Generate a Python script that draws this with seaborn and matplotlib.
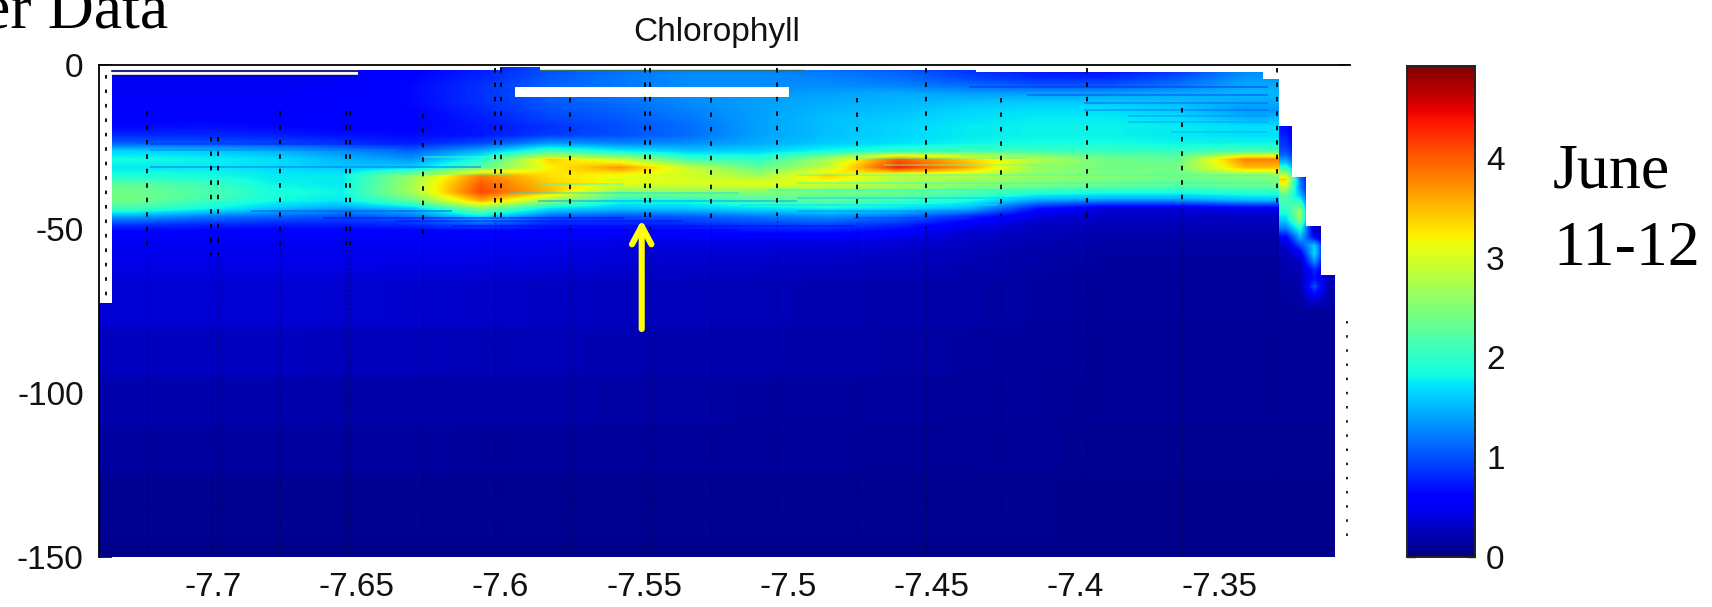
import numpy as np
import pandas as pd
import matplotlib
matplotlib.use("Agg")
import matplotlib.pyplot as plt
import matplotlib.transforms as mtrans
from matplotlib.patches import Rectangle
import seaborn as sns

sns.set_style("white")
plt.rcParams["font.family"] = ["Liberation Sans", "DejaVu Sans"]

lon_left, lon_right = -7.7428, -7.3076
max_depth = 150
n_cols = 18
depth_step = 2.5

upper_rows = [
    [.50,.50,.50,.52,.60,.75,1.00,1.15,1.25,1.25,1.15,1.05,.85,.70,.65,.85,1.25,1.25],
    [.50,.50,.50,.52,.62,.80,1.05,1.20,1.30,1.30,1.25,1.15,.95,.80,.80,1.00,1.35,1.35],
    [.50,.50,.50,.52,.65,.85,1.10,1.20,1.30,1.30,1.30,1.25,1.15,1.05,1.05,1.20,1.45,1.45],
    [.52,.52,.52,.54,.65,.85,1.10,1.20,1.30,1.35,1.40,1.45,1.40,1.40,1.40,1.45,1.50,1.50],
    [.52,.52,.52,.54,.65,.85,1.05,1.15,1.30,1.40,1.45,1.50,1.55,1.60,1.60,1.55,1.45,1.45],
    [.55,.55,.55,.55,.62,.80,1.00,1.10,1.25,1.40,1.50,1.55,1.65,1.70,1.70,1.60,1.35,1.35],
    [.60,.62,.60,.58,.62,.75,.95,1.05,1.20,1.40,1.55,1.60,1.70,1.75,1.75,1.70,1.50,1.50],
    [.65,.68,.65,.60,.62,.72,.85,1.00,1.15,1.40,1.55,1.65,1.75,1.80,1.80,1.75,1.70,1.70],
    [.80,.80,.75,.68,.65,.72,.90,1.00,1.15,1.40,1.55,1.65,1.75,1.80,1.80,1.75,1.70,1.70],
    [1.05,1.00,.95,.85,.75,.95,1.35,1.25,1.30,1.45,1.60,1.70,1.80,1.85,1.85,1.80,1.80,1.80],
    [1.65,1.60,1.50,1.30,1.10,1.50,2.10,1.80,1.60,1.65,1.85,2.00,2.10,2.10,2.05,2.05,2.15,2.15],
    [1.85,1.80,1.70,1.50,1.35,1.90,3.40,2.90,2.10,2.00,2.70,4.00,3.40,2.80,2.40,2.30,3.80,3.80],
    [1.75,1.75,1.70,1.60,1.65,2.30,3.20,3.70,2.90,2.30,2.90,4.30,3.60,2.60,2.40,2.40,3.50,3.50],
    [1.90,1.85,1.75,1.75,2.60,3.80,3.30,3.10,3.00,2.70,3.40,2.80,2.80,2.60,2.50,2.40,2.50,2.50],
    [2.25,2.10,1.80,1.75,2.70,4.00,3.40,3.10,3.00,3.10,3.00,2.75,2.60,2.50,2.40,2.30,2.40,2.40],
    [2.40,2.20,1.90,1.80,2.70,4.10,3.50,2.50,2.60,2.50,2.40,2.40,2.20,2.00,1.90,1.90,2.00,2.00],
    [2.40,2.10,1.85,1.75,2.30,3.60,2.60,1.90,1.90,2.20,2.30,2.10,1.90,1.40,1.30,1.30,1.50,1.50],
    [2.10,1.85,1.60,1.40,1.60,2.50,1.70,1.55,1.60,1.70,1.80,1.70,1.50,.70,.40,.40,.50,.50],
    [1.40,1.20,1.10,1.00,1.15,1.70,1.10,1.00,1.05,1.20,1.30,1.15,.80,.40,.30,.30,.30,.30],
    [.85,.80,.75,.75,.80,1.00,.75,.75,.80,.90,.95,.80,.50,.30,.25,.25,.25,.25],
    [.55,.55,.55,.55,.55,.55,.55,.55,.60,.65,.65,.55,.35,.25,.20,.20,.20,.20],
    [.50,.50,.50,.50,.50,.50,.50,.45,.45,.45,.45,.40,.30,.22,.18,.18,.18,.18],
    [.48,.48,.48,.48,.48,.48,.45,.40,.38,.38,.36,.32,.26,.20,.16,.16,.16,.16],
    [.46,.46,.46,.46,.46,.44,.42,.38,.36,.34,.32,.28,.24,.18,.15,.15,.15,.15],
    [.44,.44,.44,.44,.44,.42,.40,.36,.32,.30,.28,.26,.22,.17,.14,.14,.14,.14],
    [.42,.42,.42,.42,.40,.38,.36,.32,.30,.28,.26,.24,.20,.16,.13,.13,.13,.13],
]
deep_70 = [.38,.38,.38,.36,.34,.32,.30,.28,.26,.24,.22,.20,.18,.15,.12,.12,.12,.12]
deep_85 = [.28,.28,.28,.26,.26,.24,.24,.22,.20,.20,.18,.17,.15,.13,.11,.11,.11,.11]
deep_100 = [.20,.20,.20,.19,.19,.18,.18,.17,.16,.15,.15,.14,.13,.12,.10,.10,.10,.10]
deep_120 = [.14,.14,.14,.14,.14,.13,.13,.13,.12,.12,.12,.11,.11,.10,.09,.09,.09,.09]
deep_135 = [.09,.09,.09,.09,.09,.09,.09,.09,.09,.08,.08,.08,.08,.08,.07,.07,.07,.07]
deep_148 = [.05,.05,.05,.05,.05,.05,.05,.05,.05,.05,.05,.05,.05,.05,.05,.05,.05,.05]
chl_rows = upper_rows + [deep_70]*6 + [deep_85]*6 + [deep_100]*6 + [deep_120]*6 + [deep_135]*8 + [deep_148]*2

# narrow cells on the shelf slope, 18.75 to 66.25 m
shelf_lons = [-7.3322, -7.3127]
shelf_top = 18.75
shelf_rows = [
    [.70,.30,.20,.15],[.80,.40,.20,.15],[.90,.50,.20,.15],[1.10,.60,.20,.15],
    [1.60,.80,.20,.15],[2.40,1.00,.20,.15],[3.40,1.20,.20,.15],[2.80,1.30,.20,.15],
    [2.20,1.60,.25,.15],[2.10,2.20,.30,.15],[1.90,2.70,.30,.15],[1.60,2.50,.30,.15],
    [1.20,1.90,.30,.15],[.60,1.50,.60,.15],[.30,1.00,1.60,.20],[.25,.50,1.70,.20],
    [.20,.30,1.30,.20],[.20,.25,.80,.25],[.18,.22,.70,.25],[.16,.20,1.00,.22],
    [.15,.18,.60,.20],[.15,.16,.30,.18],
]

# thin layers inside the band: depth, lon from, lon to, chlorophyll
streak_depths = [24.2,26.0,31.2,28.0,33.2,36.4,39.0,41.5,44.6,46.7,47.6,49.2,50.4,
                 6.6,9.0,11.6,13.8,15.5,17.5,20.5,
                 28.4,30.6,33.5,36.0,38.2,40.4,42.6,44.5,46.5]
streak_lon0 = [-7.725,-7.725,-7.725,-7.630,-7.640,-7.590,-7.600,-7.590,-7.690,-7.665,-7.640,-7.620,-7.710,
               -7.440,-7.420,-7.400,-7.400,-7.385,-7.385,-7.370,
               -7.480,-7.470,-7.500,-7.500,-7.510,-7.500,-7.520,-7.500,-7.480]
streak_lon1 = [-7.630,-7.640,-7.610,-7.560,-7.600,-7.560,-7.520,-7.500,-7.620,-7.560,-7.540,-7.480,-7.520,
               -7.336,-7.336,-7.336,-7.336,-7.336,-7.336,-7.336,
               -7.420,-7.410,-7.335,-7.335,-7.335,-7.340,-7.430,-7.440,-7.440]
streak_chl = [.75,1.20,1.05,2.30,2.20,2.00,1.70,1.30,.90,.60,.55,.60,.45,
              .75,.90,1.00,1.10,1.25,1.35,1.45,
              2.10,2.40,2.20,2.00,1.90,1.60,1.70,1.20,.90]

# the blank parts of the section: lon from, lon to, depth from, depth to
blank_boxes = [
    (-7.7428, -7.7383, 0, 72.7),
    (-7.7383, -7.6527, 0, 3.05),
    (-7.6527, -7.6033, 0, 1.6),
    (-7.6033, -7.5895, 0, .6),
    (-7.5895, -7.4377, 0, 1.5),
    (-7.4377, -7.3378, 0, 2.0),
    (-7.3378, -7.3322, 0, 4.3),
    (-7.3322, -7.3076, 0, 18.6),
    (-7.3277, -7.3076, 18.6, 34.0),
    (-7.3228, -7.3076, 34.0, 49.1),
    (-7.3176, -7.3076, 49.1, 64.0),
    (-7.3127, -7.3076, 64.0, 150),
    (-7.598, -7.5027, 6.7, 9.8),
]

# casts of the glider: longitude and depth where its dots start
cast_lons = [-7.726,-7.704,-7.7014,-7.680,-7.657,-7.6555,-7.630,-7.605,-7.603,-7.579,
             -7.553,-7.551,-7.530,-7.507,-7.479,-7.455,-7.429,-7.399,-7.366,-7.333]
cast_tops = [14,22,22,14,14,14,15,1,1,10,1,1,10,1,10,1,10,1,13,1]
cast_ends = [58,58,58,56,55,55,52,48,48,50,50,50,48,46,48,50,46,48,42,42]

x_ticks = [-7.7, -7.65, -7.6, -7.55, -7.5, -7.45, -7.4, -7.35]
x_ticklabels = ["-7.7", "-7.65", "-7.6", "-7.55", "-7.5", "-7.45", "-7.4", "-7.35"]
y_ticks = [0, -50, -100, -150]
cbar_ticks = [0, 1, 2, 3, 4]
chl_max = 4.92

W, H = 1712, 607
depth_labels = [depth_step*(i+.5) for i in range(len(chl_rows))]
chldf = pd.DataFrame(chl_rows, index=depth_labels)
lon_w = (lon_right-lon_left)/n_cols


def xcell(lon):
    return (np.asarray(lon)-lon_left)/lon_w


def ycell(depth):
    return np.asarray(depth)/depth_step


fig = plt.figure(figsize=(W/100, H/100), dpi=100)
ax = fig.add_axes([99/W, 1-557/H, 1251/W, 492/H])
cax = fig.add_axes([1407/W, 1-557/H, 68/W, 491/H])

sns.heatmap(chldf, ax=ax, cbar_ax=cax, cmap="jet", vmin=0, vmax=chl_max,
            xticklabels=False, yticklabels=False)
chl_norm = plt.Normalize(0, chl_max)
chl_cmap = plt.get_cmap("jet")

# smooth the cells the way the contoured section looks
ax.imshow(chldf.values, extent=(0, n_cols, len(chl_rows), 0), aspect="auto", cmap="jet",
          vmin=0, vmax=chl_max, interpolation="bilinear", zorder=1.5)
shelf_arr = np.array(shelf_rows)
for d, l0, l1, c in zip(streak_depths, streak_lon0, streak_lon1, streak_chl):
    ax.plot(xcell([l0, l1]), ycell([d, d]), color=chl_cmap(chl_norm(c)), lw=1.1, alpha=.55,
            solid_capstyle="butt", zorder=1.55)
ax.imshow(shelf_arr, aspect="auto", cmap="jet", vmin=0, vmax=chl_max, interpolation="bilinear",
          extent=(xcell(shelf_lons[0]), xcell(shelf_lons[1]),
                  ycell(shelf_top+depth_step*len(shelf_rows)), ycell(shelf_top)), zorder=1.6)

for lon0, lon1, d0, d1 in blank_boxes:
    ax.add_patch(Rectangle((xcell(lon0), ycell(d0)), xcell(lon1)-xcell(lon0), ycell(d1)-ycell(d0),
                           fc="white", ec="none", zorder=2))
# thin dark line above the first stretch
ax.plot(xcell([-7.7383, -7.6527]), ycell([1.7, 1.7]), color="#23238e", lw=1.5, zorder=2.5)
ax.plot(xcell([-7.7383, -7.6527]), ycell([3.1, 3.1]), color="#101050", lw=1, zorder=2.5)
ax.plot(xcell([-7.5895, -7.4977]), ycell([1.5, 1.5]), color="#2f6f6f", lw=1, zorder=2.5)

for lon, top, end in zip(cast_lons, cast_tops, cast_ends):
    ax.plot(xcell([lon, lon]), ycell([top, end]), color="black", lw=1.3,
            ls=(0, (2.5, 5.5)), dash_capstyle="butt", zorder=3)
    ax.plot(xcell([lon, lon]), ycell([end, max_depth]), color="black", lw=.8, alpha=.3,
            ls=(0, (2, 2)), zorder=3)
ax.plot(xcell([-7.7405, -7.7405]), ycell([3, 72]), color="black", lw=1.3,
        ls=(0, (2, 6)), zorder=3)
ax.plot(xcell([-7.3085, -7.3085]), ycell([78, 147]), color="black", lw=1.2,
        ls=(0, (1.5, 7)), zorder=3)

ax.set_xlim(0, n_cols)
ax.set_ylim(len(chl_rows), 0)
ax.set_xticks(xcell(x_ticks))
ax.set_xticklabels(x_ticklabels)
ax.set_yticks(ycell(np.abs(y_ticks)))
ax.set_yticklabels([str(t) for t in y_ticks])
ax.tick_params(axis="x", which="major", direction="in", length=4.5, width=1.2, top=True, bottom=True,
               labelsize=24, pad=11, color="black", labelcolor="#111111")
ax.tick_params(axis="y", which="major", direction="in", length=9, width=1.2, left=True, right=True,
               labelsize=24, pad=11, color="black", labelcolor="#111111")
ax.yaxis.get_major_ticks()[-1].tick2line.set_visible(False)
shift = mtrans.ScaledTranslation(-9/100, 0, fig.dpi_scale_trans)
for lab in ax.get_xticklabels():
    lab.set_transform(lab.get_transform()+shift)
for s in ["top", "left"]:
    ax.spines[s].set_visible(True)
    ax.spines[s].set_linewidth(1.3)
    ax.spines[s].set_color("black")
for s in ["bottom", "right"]:
    ax.spines[s].set_visible(False)
ax.set_xlabel("")
ax.set_ylabel("")
ax.set_title("Chlorophyll", fontsize=24, x=.4935, pad=17, color="#111111")

# arrow to the layer
ax.annotate("", xy=(xcell(-7.554), ycell(47.2)), xytext=(xcell(-7.554), ycell(80.5)),
            arrowprops=dict(arrowstyle="->,head_length=1.3,head_width=.7", color="#ffff00", lw=4.4,
                            shrinkA=0, shrinkB=0), zorder=4)

cax.set_yticks(cbar_ticks)
cax.set_yticklabels([str(t) for t in cbar_ticks])
cax.tick_params(axis="y", direction="in", length=6, width=1, left=True, right=True,
                labelsize=24, pad=8, color="#222222", labelcolor="#111111")
for s in cax.spines.values():
    s.set_visible(True)
    s.set_linewidth(1.2)
    s.set_color("#222222")

serif = ["Liberation Serif", "DejaVu Serif"]
fig.text(-18/W, 1-28/H, "er Data", fontsize=46, family=serif, color="black", va="baseline")
fig.text(1553/W, 1-188/H, "June", fontsize=46, family=serif, color="black", va="baseline")
fig.text(1553/W, 1-265/H, "11-12", fontsize=46, family=serif, color="black", va="baseline")

fig.savefig("out.png", dpi=100)
